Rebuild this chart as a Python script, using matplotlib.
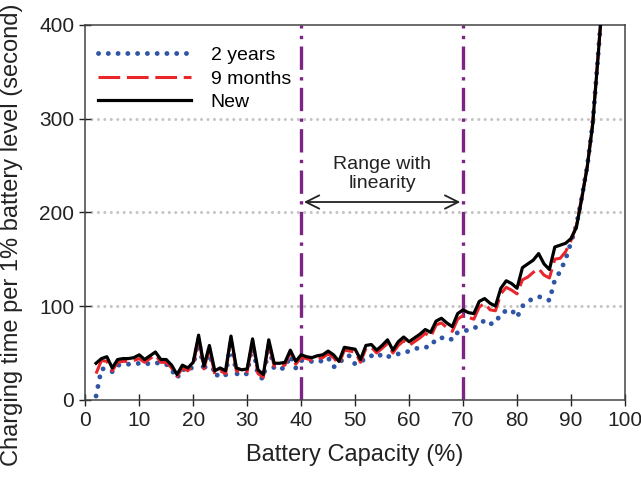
import matplotlib
matplotlib.use("Agg")
from matplotlib import pyplot as plt
import numpy as np

plt.rcParams['font.family'] = ['Liberation Sans', 'DejaVu Sans']

# battery level (%) where each sample was taken
capacity = list(range(2, 97))

# charging time per 1% level (s)
new_batt = [39, 44, 46, 34, 43, 44, 44, 45, 48, 43, 47, 51, 43, 43, 37, 27, 37, 34, 40,
            69, 36, 58, 31, 34, 31, 68, 34, 32, 33, 65, 32, 27, 64, 39, 39, 40, 53, 41, 48,
            46, 45, 47, 48, 52, 48, 41, 56, 55, 54, 43, 58, 59, 53, 58, 64, 53, 62, 67, 62,
            66, 70, 75, 72, 84, 87, 82, 78, 92, 96, 93, 92, 105, 108, 103, 100, 119, 127,
            124, 119, 141, 145, 149, 156, 145, 139, 163, 165, 167, 172, 184, 215, 248, 293,
            365, 440]
months9 = [28, 42, 41, 31, 40, 41, 41, 42, 44, 40, 44, 48, 40, 40, 34, 25, 34, 31, 37,
           67, 33, 56, 27, 31, 28, 66, 31, 29, 30, 63, 28, 24, 62, 36, 36, 37, 51, 38, 45,
           44, 42, 44, 45, 49, 45, 38, 53, 52, 51, 40, 55, 56, 50, 55, 60, 50, 58, 63, 58,
           62, 66, 71, 67, 80, 82, 77, 73, 86, 90, 88, 86, 99, 103, 96, 95, 113, 120,
           117, 113, 128, 131, 136, 140, 133, 130, 150, 151, 158, 170, 186, 216, 249, 294,
           366, 441]
years2 = [4, 33, 33, 30, 37, 37, 38, 38, 39, 38, 39, 40, 38, 38, 32, 23, 33, 30, 36,
          65, 30, 54, 25, 28, 26, 63, 28, 26, 28, 60, 26, 22, 58, 33, 33, 34, 47, 34, 42,
          41, 41, 40, 42, 45, 35, 38, 46, 47, 38, 40, 45, 47, 45, 49, 46, 47, 49, 50, 52,
          54, 56, 56, 57, 65, 66, 67, 64, 72, 74, 74, 76, 80, 85, 81, 82, 92, 95,
          96, 88, 100, 105, 108, 110, 109, 106, 128, 137, 150, 168, 186, 216, 249, 294,
          366, 441]

lin_start, lin_end = 40, 70

fig = plt.figure(figsize=(6.41, 4.87), dpi=100)
ax = fig.add_axes([0.133, 0.179, 0.842, 0.77])

for yg in [100, 200, 300]:
    ax.axhline(yg, color='#c4c4c4', lw=2.2, ls=(0, (0.01, 2.1)),
               dash_capstyle='round', zorder=1)

ax.plot(capacity, years2, color='#2f55a4', lw=3.5, ls=(0, (0.01, 2.0)),
        dash_capstyle='round', label='2 years', zorder=3)
ax.plot(capacity, months9, color='#e8262b', lw=2.2, ls=(0, (7.1, 2.2)),
        solid_joinstyle='round', label='9 months', zorder=4)
ax.plot(capacity, new_batt, color='black', lw=2.3, solid_joinstyle='round',
        label='New', zorder=5)

for xv in [lin_start, lin_end]:
    ax.axvline(xv, color='#7d2585', lw=2.4, ls=(0, (7, 2.2, 1, 2.2)), zorder=2)

ax.annotate('', xy=(lin_start, 211), xytext=(lin_end, 211),
            arrowprops=dict(arrowstyle='<->', color='#222222', lw=1.3,
                            mutation_scale=24))
ax.text((lin_start + lin_end) / 2, 241, 'Range with\nlinearity', ha='center',
        va='center', fontsize=14, color='#222222', linespacing=1.12)

ax.set_xlim(0, 100)
ax.set_ylim(0, 400)
ax.set_xticks(range(0, 101, 10))
ax.set_yticks(range(0, 401, 100))
ax.tick_params(direction='inout', length=8, width=1, labelsize=15,
               colors='#222222', pad=4)
for s in ax.spines.values():
    s.set_color('#444444')
    s.set_linewidth(1.1)

ax.set_xlabel('Battery Capacity (%)', fontsize=17, color='#222222', labelpad=10)
ax.set_ylabel('Charging time per 1% battery level (second)', fontsize=17,
              color='#222222')
ax.yaxis.set_label_coords(-0.115, 0.44)

ax.legend(loc='upper left', frameon=False, fontsize=14, handlelength=4.8,
          handletextpad=1.0, borderaxespad=0, labelspacing=0.3,
          bbox_to_anchor=(0.009, 0.963))

fig.savefig('out.png', dpi=100)
